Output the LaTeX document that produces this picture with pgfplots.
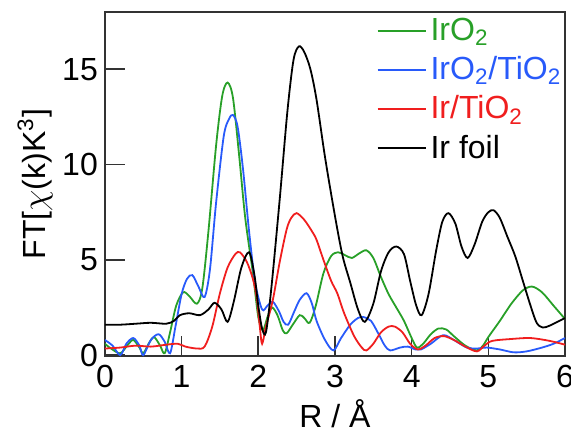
\documentclass[border=0pt]{standalone}
\usepackage{fontspec}
\setmainfont{Liberation Sans}
\usepackage{pgfplots}
\pgfplotsset{compat=1.18}

\definecolor{cgreen}{RGB}{40,160,40}
\definecolor{cblue}{RGB}{40,90,250}
\definecolor{cred}{RGB}{240,30,30}

\begin{document}
\begin{tikzpicture}
\begin{axis}[
  scale only axis,
  width=230pt, height=172pt,
  xmin=0, xmax=6, ymin=-0.05, ymax=18,
  xtick={0,1,...,6}, ytick={0,5,10,15},
  xtick pos=bottom, ytick pos=left,
  major tick length=10pt,
  tick style={black!80, line width=0.8pt},
  axis line style={line width=0.8pt, black!80},
  tick label style={font=\fontsize{16}{18}\selectfont},
  /pgf/number format/assume math mode=true,
  label style={font=\fontsize{16}{18}\selectfont},
  xlabel={R / Å},
  ylabel={FT[$\chi$(k)K\textsuperscript{3}]},
  xlabel style={yshift=1pt},
  ylabel style={yshift=-2pt},
  xticklabel style={yshift=-1pt},
  legend style={draw=none, fill=none, at={(rel axis cs:0.59,0.995)}, anchor=north west,
    font=\fontsize{16}{18}\selectfont, inner sep=0pt, row sep=2.5pt},
  legend cell align=left,
  legend image code/.code={\draw[#1] (0pt,0pt) -- (24pt,0pt);},
  every axis plot/.append style={line width=0.9pt, smooth, tension=0.5},
]
\addplot[cgreen] coordinates {
(0,0.6) (0.08,0.35) (0.2,0.1) (0.3,0.55) (0.37,0.8) (0.45,0.4) (0.5,0.1)
(0.57,0.6) (0.64,0.95) (0.72,0.5) (0.78,0.1) (0.85,1.2) (0.93,2.6) (1.02,3.3)
(1.1,3.1) (1.2,2.7) (1.27,3.5) (1.35,6.5) (1.45,11) (1.53,13.6) (1.6,14.3)
(1.67,13.5) (1.75,10.5) (1.83,7.2) (1.93,4.3) (2.0,2.0) (2.06,1.3) (2.12,2.0)
(2.18,2.5) (2.25,2.1) (2.32,1.3) (2.37,1.15) (2.45,1.6) (2.54,2.1) (2.6,1.95)
(2.67,1.7) (2.75,2.6) (2.85,4.3) (2.95,5.2) (3.04,5.4) (3.13,5.25) (3.22,5.1)
(3.32,5.35) (3.41,5.5) (3.5,5.1) (3.6,4.1) (3.7,3.2) (3.8,2.5) (3.9,1.8)
(4.0,0.9) (4.07,0.4) (4.15,0.6) (4.25,1.1) (4.35,1.4) (4.45,1.35) (4.55,1.0)
(4.7,0.5) (4.85,0.25) (4.93,0.5) (5.0,0.95) (5.15,1.8) (5.3,2.7) (5.45,3.4)
(5.57,3.6) (5.7,3.3) (5.85,2.6) (6.0,1.9)
};
\addlegendentry{\textcolor{cgreen}{IrO\textsubscript{2}}}
\addplot[cblue] coordinates {
(0,0.8) (0.1,0.5) (0.2,0.0) (0.28,0.6) (0.37,0.9) (0.45,0.5) (0.5,0.0)
(0.6,0.8) (0.7,1.1) (0.78,0.7) (0.85,0.1) (0.92,1.5) (1.0,3.2) (1.07,4.0)
(1.14,4.2) (1.22,3.6) (1.3,3.05) (1.37,4.5) (1.45,8.0) (1.55,11.5) (1.62,12.4)
(1.67,12.6) (1.73,12.0) (1.8,9.8) (1.88,6.5) (1.96,3.8) (2.05,2.4) (2.12,2.6)
(2.19,2.8) (2.27,2.3) (2.33,1.75) (2.39,1.6) (2.47,2.3) (2.54,2.9) (2.63,3.25)
(2.7,2.7) (2.76,1.8) (2.87,0.8) (2.98,0.25) (3.08,0.9) (3.2,1.6) (3.3,1.95)
(3.37,2.0) (3.47,1.8) (3.57,1.1) (3.65,0.5) (3.72,0.25) (3.85,0.4) (3.95,0.45)
(4.05,0.3) (4.12,0.3) (4.25,0.6) (4.41,1.05) (4.55,0.8) (4.72,0.4) (4.85,0.35)
(4.98,0.4) (5.15,0.3) (5.33,0.15) (5.5,0.2) (5.7,0.4) (5.85,0.6) (6.0,0.9)
};
\addlegendentry{\textcolor{cblue}{IrO\textsubscript{2}/TiO\textsubscript{2}}}
\addplot[cred] coordinates {
(0,0.35) (0.2,0.4) (0.4,0.5) (0.6,0.45) (0.8,0.55) (0.95,0.6) (1.05,0.45)
(1.2,0.35) (1.3,0.45) (1.4,1.5) (1.5,3.25) (1.6,4.6) (1.7,5.3) (1.76,5.4)
(1.85,4.9) (1.93,4.0) (1.98,3.0) (2.02,1.5) (2.05,0.6) (2.1,1.5) (2.19,2.9)
(2.28,4.9) (2.37,6.6) (2.43,7.2) (2.5,7.45) (2.6,7.1) (2.7,6.5) (2.76,6.05)
(2.85,5.0) (2.95,3.9) (3.03,3.25) (3.12,2.2) (3.25,1.0) (3.35,0.4) (3.41,0.25)
(3.5,0.6) (3.6,1.2) (3.7,1.5) (3.78,1.5) (3.88,1.2) (3.98,0.6) (4.08,0.3)
(4.18,0.5) (4.3,0.9) (4.42,1.0) (4.55,0.8) (4.7,0.45) (4.85,0.2) (4.95,0.5)
(5.05,0.75) (5.3,0.85) (5.55,0.9) (5.8,0.75) (6.0,0.55)
};
\addlegendentry{\textcolor{cred}{Ir/TiO\textsubscript{2}}}
\addplot[black] coordinates {
(0,1.6) (0.2,1.6) (0.4,1.65) (0.6,1.7) (0.8,1.65) (0.9,1.8) (0.98,2.1)
(1.1,2.2) (1.24,2.1) (1.35,2.4) (1.43,2.75) (1.52,2.4) (1.6,1.75) (1.68,2.8)
(1.78,4.6) (1.88,5.4) (1.95,4.2) (2.0,2.6) (2.05,1.4) (2.1,1.2) (2.17,3.5)
(2.28,8.2) (2.38,12.8) (2.46,15.5) (2.53,16.2) (2.6,15.9) (2.68,15.0) (2.76,13.4)
(2.87,10.4) (3.0,7.3) (3.1,5.2) (3.2,3.8) (3.3,2.4) (3.39,1.75) (3.5,2.7)
(3.6,4.4) (3.7,5.4) (3.8,5.7) (3.9,5.3) (3.98,3.9) (4.06,2.6) (4.13,2.1)
(4.22,3.2) (4.32,5.5) (4.4,7.0) (4.48,7.45) (4.57,6.9) (4.65,5.7) (4.73,5.1)
(4.82,5.8) (4.92,7.0) (5.0,7.5) (5.07,7.6) (5.15,7.2) (5.25,6.2) (5.35,5.2)
(5.45,3.9) (5.55,2.6) (5.63,1.7) (5.71,1.45) (5.8,1.55) (5.9,1.75) (6.0,1.95)
};
\addlegendentry{Ir foil}
\coordinate (bl) at (rel axis cs:-0.228,-0.227);
\coordinate (tr) at (rel axis cs:1.013,1.035);
\end{axis}
\pgfresetboundingbox
\path (bl) rectangle (tr);
\end{tikzpicture}
\end{document}
